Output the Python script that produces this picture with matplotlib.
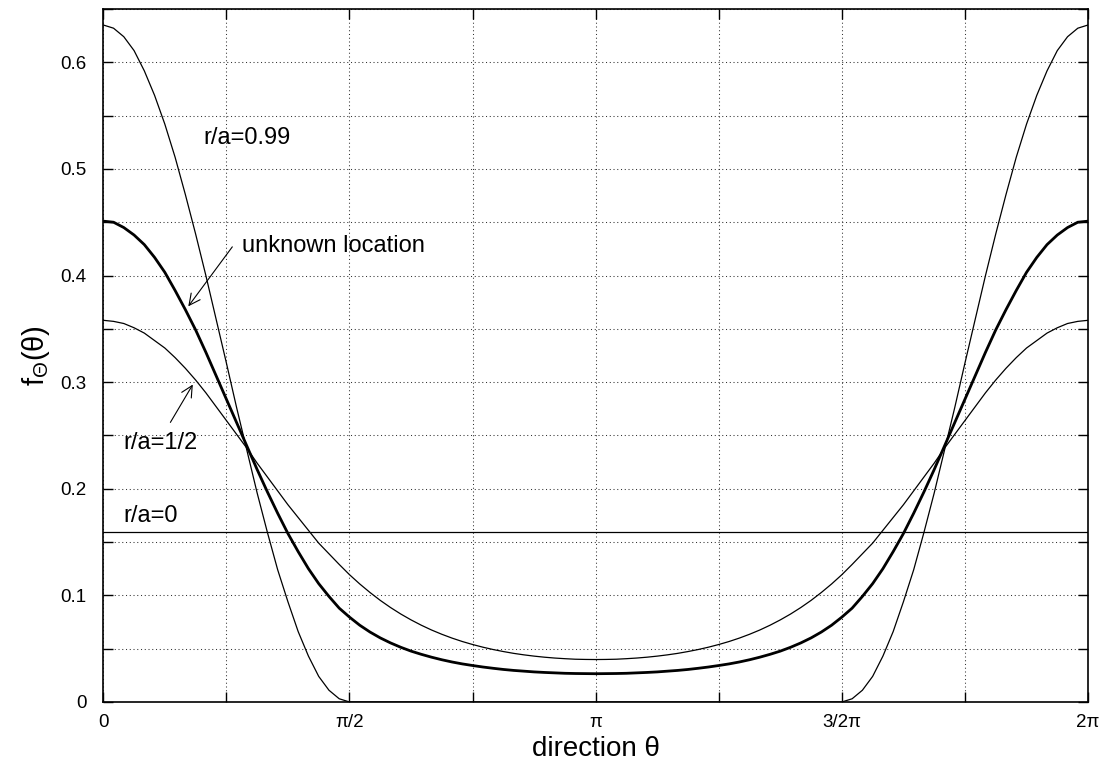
import matplotlib
matplotlib.use("Agg")
import matplotlib.pyplot as plt
from matplotlib.ticker import MultipleLocator, FixedLocator, FixedFormatter

plt.rcParams['font.family'] = ['Liberation Sans', 'DejaVu Sans']
plt.rcParams['mathtext.fontset'] = 'custom'
plt.rcParams['mathtext.rm'] = 'Liberation Sans'
plt.rcParams['mathtext.it'] = 'Liberation Sans'

# direction theta in units of pi (step pi/48)
theta = [k / 48 for k in range(97)]

# r/a = 0.99 (sits on zero between pi/2 and 3pi/2)
theta_099 = [k / 48 for k in range(25)] + [k / 48 for k in range(72, 97)]
f_099 = [0.635, 0.632, 0.624, 0.611, 0.592, 0.569, 0.542, 0.511, 0.476, 0.439, 0.400, 0.359, 0.318,
         0.276, 0.236, 0.196, 0.159, 0.124, 0.094, 0.066, 0.043, 0.024, 0.011, 0.003, 0.0,
         0.0, 0.003, 0.011, 0.024, 0.043, 0.066, 0.094, 0.124, 0.159, 0.196, 0.236, 0.276,
         0.318, 0.359, 0.400, 0.439, 0.476, 0.511, 0.542, 0.569, 0.592, 0.611, 0.624, 0.632, 0.635]

# r/a = 1/2
f_half = [0.358, 0.357, 0.355, 0.351, 0.346, 0.339, 0.332, 0.323, 0.313, 0.302, 0.290, 0.277,
          0.264, 0.251, 0.238, 0.224, 0.211, 0.198, 0.185, 0.173, 0.161, 0.149, 0.139, 0.129,
          0.1194, 0.1107, 0.1027, 0.0953, 0.0886, 0.0825, 0.0770, 0.0720, 0.0675, 0.0635, 0.0599, 0.0567,
          0.0539, 0.0514, 0.0492, 0.0473, 0.0456, 0.0442, 0.0430, 0.0420, 0.0412, 0.0406, 0.0401, 0.0399,
          0.0398,
          0.0399, 0.0401, 0.0406, 0.0412, 0.0420, 0.0430, 0.0442, 0.0456, 0.0473, 0.0492, 0.0514, 0.0539,
          0.0567, 0.0599, 0.0635, 0.0675, 0.0720, 0.0770, 0.0825, 0.0886, 0.0953, 0.1027, 0.1107, 0.1194,
          0.129, 0.139, 0.149, 0.161, 0.173, 0.185, 0.198, 0.211, 0.224, 0.238, 0.251, 0.264,
          0.277, 0.290, 0.302, 0.313, 0.323, 0.332, 0.339, 0.346, 0.351, 0.355, 0.357, 0.358]

# unknown location (thick curve)
f_unknown = [0.451, 0.450, 0.445, 0.438, 0.429, 0.417, 0.403, 0.386, 0.368, 0.349, 0.328, 0.306,
             0.284, 0.262, 0.240, 0.218, 0.197, 0.177, 0.158, 0.141, 0.125, 0.111, 0.099, 0.088,
             0.0796, 0.0720, 0.0656, 0.0601, 0.0554, 0.0513, 0.0477, 0.0447, 0.0420, 0.0396, 0.0375, 0.0357,
             0.0342, 0.0328, 0.0316, 0.0305, 0.0296, 0.0289, 0.0282, 0.0277, 0.0273, 0.0269, 0.0267, 0.0266,
             0.0265,
             0.0266, 0.0267, 0.0269, 0.0273, 0.0277, 0.0282, 0.0289, 0.0296, 0.0305, 0.0316, 0.0328, 0.0342,
             0.0357, 0.0375, 0.0396, 0.0420, 0.0447, 0.0477, 0.0513, 0.0554, 0.0601, 0.0656, 0.0720, 0.0796,
             0.088, 0.099, 0.111, 0.125, 0.141, 0.158, 0.177, 0.197, 0.218, 0.240, 0.262, 0.284,
             0.306, 0.328, 0.349, 0.368, 0.386, 0.403, 0.417, 0.429, 0.438, 0.445, 0.450, 0.451]

# r/a = 0 (uniform)
theta_0 = [0, 2]
f_0 = [0.159, 0.159]

xtick_pos = [0, 0.5, 1, 1.5, 2]
xtick_labels = ['0', 'π/2', 'π', '3/2π', '2π']

fig = plt.figure(figsize=(11.07, 7.76), dpi=100)
ax = fig.add_axes([0.0933, 0.0954, 0.8896, 0.893])

ax.plot(theta_0, f_0, color='black', lw=0.9)
ax.plot(theta, f_half, color='black', lw=0.9)
ax.plot(theta_099, f_099, color='black', lw=0.9)
ax.plot(theta, f_unknown, color='black', lw=2.0)

ax.set_xlim(0, 2)
ax.set_ylim(0, 0.65)

ax.xaxis.set_major_locator(FixedLocator(xtick_pos))
ax.xaxis.set_major_formatter(FixedFormatter(xtick_labels))
ax.xaxis.set_minor_locator(MultipleLocator(0.25))
ax.yaxis.set_major_locator(MultipleLocator(0.1))
ax.yaxis.set_minor_locator(MultipleLocator(0.05))
ax.yaxis.set_major_formatter(plt.FuncFormatter(lambda v, p: '0' if abs(v) < 1e-9 else f'{v:.1f}'))

ax.tick_params(which='both', direction='in', top=True, right=True, length=7.5, width=1.0,
               labelsize=13.5)
ax.tick_params(axis='y', pad=12)
ax.tick_params(axis='x', pad=9)

ax.grid(which='both', color='0.2', lw=0.75, linestyle=(0, (1, 2.6)))
ax.set_axisbelow(True)
for s in ax.spines.values():
    s.set_linewidth(1.2)

ax.set_xlabel('direction θ', fontsize=20, labelpad=3)
ax.set_ylabel(r'f$_{\Theta}$(θ)', fontsize=21, labelpad=6)

ax.text(0.203, 0.529, 'r/a=0.99', fontsize=17, ha='left', va='center')
ax.text(0.281, 0.428, 'unknown location', fontsize=17, ha='left', va='center')
ax.text(0.0406, 0.243, 'r/a=1/2', fontsize=17, ha='left', va='center')
ax.text(0.0406, 0.174, 'r/a=0', fontsize=17, ha='left', va='center')

ax.annotate('', xy=(0.1693, 0.369), xytext=(0.2654, 0.429),
            arrowprops=dict(arrowstyle='->', color='black', lw=0.8, mutation_scale=20))
ax.annotate('', xy=(0.1847, 0.300), xytext=(0.1334, 0.260),
            arrowprops=dict(arrowstyle='->', color='black', lw=0.8, mutation_scale=20))

fig.savefig('out.png', dpi=100)
